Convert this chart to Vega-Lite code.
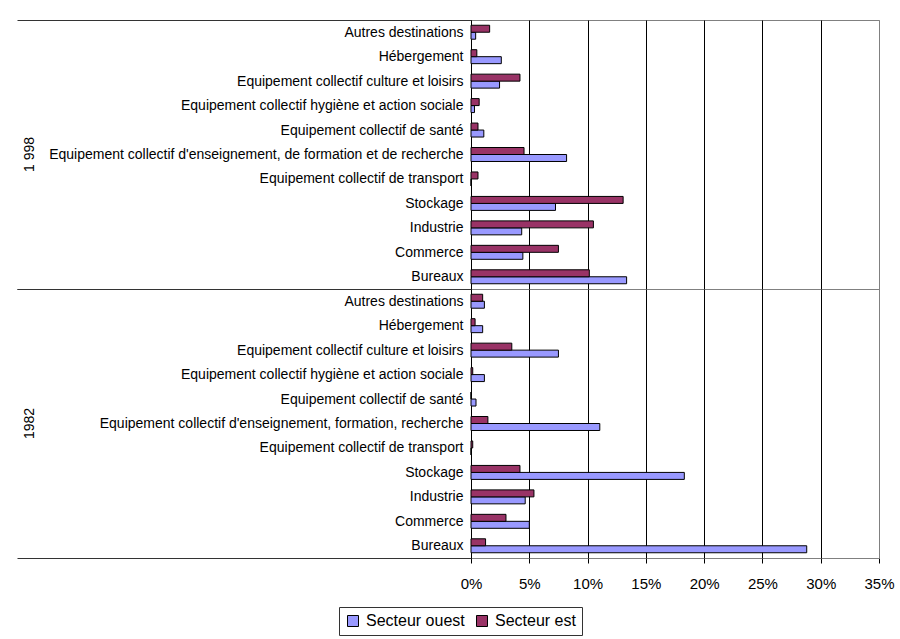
{
  "$schema": "https://vega.github.io/schema/vega-lite/v6.json",
  "padding": {"left": 16, "top": 12, "right": 5, "bottom": 5},
  "bounds": "flush",
  "background": "white",
  "data": {"values": [
    {"annee": "1 998", "ordre": 1, "categorie": "Autres destinations", "secteur": "Secteur ouest", "valeur": 0.004},
    {"annee": "1 998", "ordre": 1, "categorie": "Autres destinations", "secteur": "Secteur est", "valeur": 0.016},
    {"annee": "1 998", "ordre": 2, "categorie": "Hébergement", "secteur": "Secteur ouest", "valeur": 0.026},
    {"annee": "1 998", "ordre": 2, "categorie": "Hébergement", "secteur": "Secteur est", "valeur": 0.005},
    {"annee": "1 998", "ordre": 3, "categorie": "Equipement collectif culture et loisirs", "secteur": "Secteur ouest", "valeur": 0.0245},
    {"annee": "1 998", "ordre": 3, "categorie": "Equipement collectif culture et loisirs", "secteur": "Secteur est", "valeur": 0.042},
    {"annee": "1 998", "ordre": 4, "categorie": "Equipement collectif hygiène et action sociale", "secteur": "Secteur ouest", "valeur": 0.003},
    {"annee": "1 998", "ordre": 4, "categorie": "Equipement collectif hygiène et action sociale", "secteur": "Secteur est", "valeur": 0.007},
    {"annee": "1 998", "ordre": 5, "categorie": "Equipement collectif de santé", "secteur": "Secteur ouest", "valeur": 0.011},
    {"annee": "1 998", "ordre": 5, "categorie": "Equipement collectif de santé", "secteur": "Secteur est", "valeur": 0.006},
    {"annee": "1 998", "ordre": 6, "categorie": "Equipement collectif d'enseignement, de formation et de recherche", "secteur": "Secteur ouest", "valeur": 0.082},
    {"annee": "1 998", "ordre": 6, "categorie": "Equipement collectif d'enseignement, de formation et de recherche", "secteur": "Secteur est", "valeur": 0.0455},
    {"annee": "1 998", "ordre": 7, "categorie": "Equipement collectif de transport", "secteur": "Secteur ouest", "valeur": 0},
    {"annee": "1 998", "ordre": 7, "categorie": "Equipement collectif de transport", "secteur": "Secteur est", "valeur": 0.006},
    {"annee": "1 998", "ordre": 8, "categorie": "Stockage", "secteur": "Secteur ouest", "valeur": 0.0725},
    {"annee": "1 998", "ordre": 8, "categorie": "Stockage", "secteur": "Secteur est", "valeur": 0.1305},
    {"annee": "1 998", "ordre": 9, "categorie": "Industrie", "secteur": "Secteur ouest", "valeur": 0.0435},
    {"annee": "1 998", "ordre": 9, "categorie": "Industrie", "secteur": "Secteur est", "valeur": 0.105},
    {"annee": "1 998", "ordre": 10, "categorie": "Commerce", "secteur": "Secteur ouest", "valeur": 0.0445},
    {"annee": "1 998", "ordre": 10, "categorie": "Commerce", "secteur": "Secteur est", "valeur": 0.075},
    {"annee": "1 998", "ordre": 11, "categorie": "Bureaux", "secteur": "Secteur ouest", "valeur": 0.1335},
    {"annee": "1 998", "ordre": 11, "categorie": "Bureaux", "secteur": "Secteur est", "valeur": 0.1015},
    {"annee": "1982", "ordre": 1, "categorie": "Autres destinations", "secteur": "Secteur ouest", "valeur": 0.0115},
    {"annee": "1982", "ordre": 1, "categorie": "Autres destinations", "secteur": "Secteur est", "valeur": 0.010},
    {"annee": "1982", "ordre": 2, "categorie": "Hébergement", "secteur": "Secteur ouest", "valeur": 0.010},
    {"annee": "1982", "ordre": 2, "categorie": "Hébergement", "secteur": "Secteur est", "valeur": 0.0035},
    {"annee": "1982", "ordre": 3, "categorie": "Equipement collectif culture et loisirs", "secteur": "Secteur ouest", "valeur": 0.075},
    {"annee": "1982", "ordre": 3, "categorie": "Equipement collectif culture et loisirs", "secteur": "Secteur est", "valeur": 0.035},
    {"annee": "1982", "ordre": 4, "categorie": "Equipement collectif hygiène et action sociale", "secteur": "Secteur ouest", "valeur": 0.0115},
    {"annee": "1982", "ordre": 4, "categorie": "Equipement collectif hygiène et action sociale", "secteur": "Secteur est", "valeur": 0.0015},
    {"annee": "1982", "ordre": 5, "categorie": "Equipement collectif de santé", "secteur": "Secteur ouest", "valeur": 0.0043},
    {"annee": "1982", "ordre": 5, "categorie": "Equipement collectif de santé", "secteur": "Secteur est", "valeur": 0},
    {"annee": "1982", "ordre": 6, "categorie": "Equipement collectif d'enseignement, formation, recherche", "secteur": "Secteur ouest", "valeur": 0.1105},
    {"annee": "1982", "ordre": 6, "categorie": "Equipement collectif d'enseignement, formation, recherche", "secteur": "Secteur est", "valeur": 0.0145},
    {"annee": "1982", "ordre": 7, "categorie": "Equipement collectif de transport", "secteur": "Secteur ouest", "valeur": 0},
    {"annee": "1982", "ordre": 7, "categorie": "Equipement collectif de transport", "secteur": "Secteur est", "valeur": 0.0015},
    {"annee": "1982", "ordre": 8, "categorie": "Stockage", "secteur": "Secteur ouest", "valeur": 0.183},
    {"annee": "1982", "ordre": 8, "categorie": "Stockage", "secteur": "Secteur est", "valeur": 0.042},
    {"annee": "1982", "ordre": 9, "categorie": "Industrie", "secteur": "Secteur ouest", "valeur": 0.0465},
    {"annee": "1982", "ordre": 9, "categorie": "Industrie", "secteur": "Secteur est", "valeur": 0.054},
    {"annee": "1982", "ordre": 10, "categorie": "Commerce", "secteur": "Secteur ouest", "valeur": 0.050},
    {"annee": "1982", "ordre": 10, "categorie": "Commerce", "secteur": "Secteur est", "valeur": 0.030},
    {"annee": "1982", "ordre": 11, "categorie": "Bureaux", "secteur": "Secteur ouest", "valeur": 0.288},
    {"annee": "1982", "ordre": 11, "categorie": "Bureaux", "secteur": "Secteur est", "valeur": 0.0125}
  ]},
  "facet": {
    "row": {
      "field": "annee", "type": "nominal", "sort": ["1 998", "1982"],
      "header": {"title": null, "labelAngle": -90, "labelOrient": "left", "labelFont": "Liberation Sans", "labelFontSize": 14, "labelColor": "#000", "labelPadding": 427}
    }
  },
  "spacing": 0,
  "resolve": {"scale": {"y": "independent", "yOffset": "independent"}},
  "spec": {
    "width": 408,
    "height": 269,
    "mark": {"type": "bar", "stroke": "#000", "strokeWidth": 1},
    "encoding": {
      "y": {
        "field": "categorie", "type": "nominal",
        "sort": {"field": "ordre", "op": "min", "order": "ascending"},
        "scale": {"paddingInner": 0, "paddingOuter": 0},
        "axis": {
          "title": null, "tickBand": "extent", "domainColor": "#000", "tickColor": "#333",
          "tickSize": {"condition": {"test": "datum.value === 'Bureaux' || !!datum.extra", "value": 454}, "value": 0},
          "labelPadding": {"condition": {"test": "datum.value === 'Bureaux' || !!datum.extra", "value": -446}, "value": 8},
          "labelFont": "Liberation Sans", "labelFontSize": 14, "labelColor": "#000", "labelLimit": 0
        }
      },
      "yOffset": {"field": "secteur", "type": "nominal", "sort": ["Secteur est", "Secteur ouest"], "scale": {"paddingInner": 0, "paddingOuter": 0.75}},
      "x": {
        "field": "valeur", "type": "quantitative",
        "scale": {"domain": [0, 0.35], "nice": false},
        "axis": {
          "title": null, "values": [0, 0.05, 0.1, 0.15, 0.2, 0.25, 0.3, 0.35], "format": ".0%",
          "grid": true, "gridOpacity": 1, "domainColor": "#000", "tickColor": "#000", "tickSize": 5,
          "gridColor": {"condition": {"test": "datum.value >= 0.34", "value": "#808080"}, "value": "#000"},
          "labelFont": "Liberation Sans", "labelFontSize": 15, "labelColor": "#000", "labelPadding": 13, "labelFlush": false
        }
      },
      "color": {
        "field": "secteur", "type": "nominal",
        "scale": {"domain": ["Secteur ouest", "Secteur est"], "range": ["#9999FF", "#993366"]},
        "legend": {
          "title": null, "orient": "none", "legendX": -132, "legendY": 587, "direction": "horizontal", "symbolType": "square", "symbolSize": 121,
          "symbolStrokeColor": "#000", "symbolStrokeWidth": 1, "labelFont": "Liberation Sans", "labelFontSize": 16, "labelColor": "#000",
          "strokeColor": "#333", "padding": 6, "columnPadding": 9, "symbolOffset": 0, "labelOffset": 5
        }
      }
    }
  },
  "config": {"view": {"stroke": "#808080"}}
}
